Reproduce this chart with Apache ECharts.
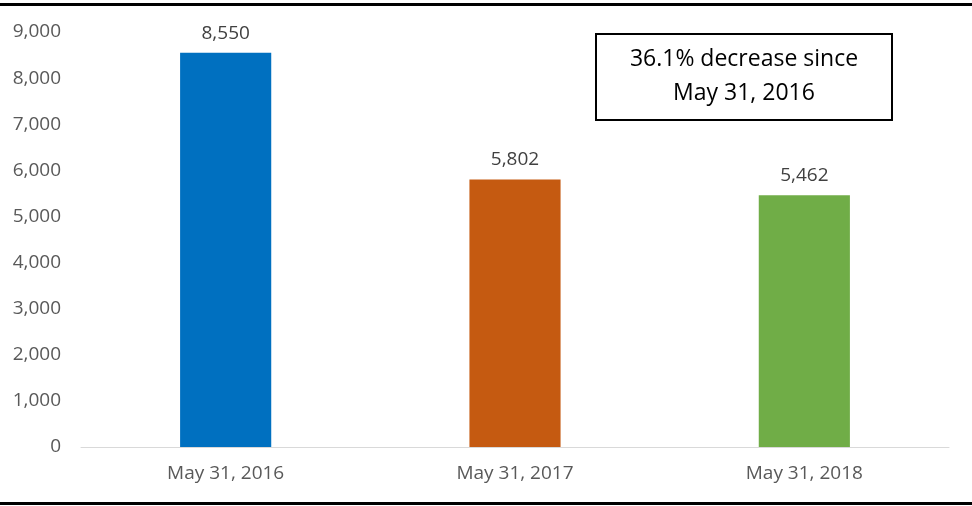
<!DOCTYPE html>
<html>
<head>
<meta charset="utf-8">
<script src="https://cdn.jsdelivr.net/npm/echarts@6/dist/echarts.min.js"></script>
<style>
  html, body { margin: 0; padding: 0; background: #fff; }
  #chart { width: 972px; height: 506px; }
</style>
</head>
<body>
<div id="chart"></div>
<script>
// data
var categories = ['May 31, 2016', 'May 31, 2017', 'May 31, 2018']
var values = [8550, 5802, 5462]
var barColors = ['#0070C0', '#C55A11', '#70AD47']
var noteLines = ['36.1% decrease since', 'May 31, 2016']

var fontFamily = '"Open Sans", "Liberation Sans", sans-serif'

var myChart = echarts.init(document.getElementById('chart'))
myChart.setOption({
  animation: false,
  grid: { left: 81, right: 23, top: 32, bottom: 59 },
  xAxis: {
    type: 'category',
    data: categories,
    axisLine: { lineStyle: { color: '#d9d9d9', width: 1 } },
    axisTick: { show: false },
    axisLabel: { color: '#595959', fontSize: 19, fontFamily: fontFamily, margin: 17 }
  },
  yAxis: {
    type: 'value',
    min: 0,
    max: 9000,
    interval: 1000,
    splitLine: { show: false },
    axisLine: { show: false },
    axisTick: { show: false },
    axisLabel: {
      color: '#595959',
      fontSize: 19,
      fontFamily: fontFamily,
      margin: 20,
      formatter: function (v) { return v.toLocaleString('en-US') }
    }
  },
  series: [{
    type: 'bar',
    barWidth: '31.5%',
    data: values.map(function (v, i) {
      return { value: v, itemStyle: { color: barColors[i] } }
    }),
    label: {
      show: true,
      position: 'top',
      distance: 10,
      color: '#404040',
      fontSize: 19,
      fontFamily: fontFamily,
      formatter: function (p) { return p.value.toLocaleString('en-US') }
    }
  }],
  graphic: [
    // top and bottom rules
    { type: 'rect', shape: { x: 0, y: 3, width: 972, height: 3 }, style: { fill: '#000' } },
    { type: 'rect', shape: { x: 0, y: 502, width: 972, height: 3 }, style: { fill: '#000' } },
    // note box
    {
      type: 'rect',
      shape: { x: 596, y: 34, width: 296, height: 86 },
      style: { fill: '#fff', stroke: '#000', lineWidth: 2 }
    },
    {
      type: 'text',
      x: 744,
      y: 76,
      style: {
        text: noteLines.join('\n'),
        fill: '#000',
        fontSize: 23,
        fontFamily: fontFamily,
        lineHeight: 34,
        align: 'center',
        verticalAlign: 'middle'
      }
    }
  ]
})
</script>
</body>
</html>
